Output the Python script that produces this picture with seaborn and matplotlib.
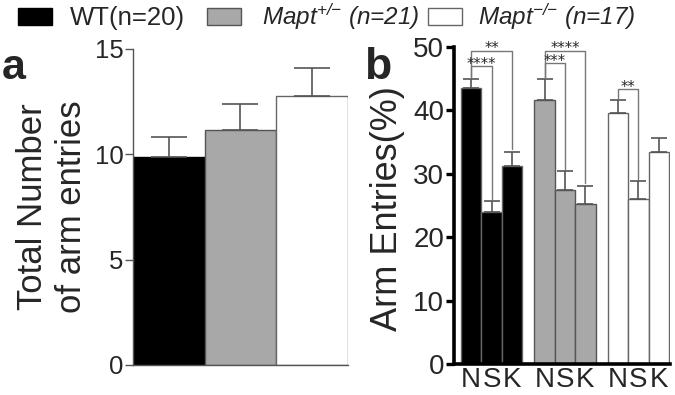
import numpy as np
import pandas as pd
import matplotlib
matplotlib.use('Agg')
import matplotlib.pyplot as plt
from matplotlib.patches import Rectangle
import seaborn as sns

sns.set_style('white')
plt.rcParams['font.family'] = ['Liberation Sans', 'DejaVu Sans']
plt.rcParams['mathtext.default'] = 'regular'

# ========== data ==========
genotypes = ['WT', 'Mapt+/-', 'Mapt-/-']
legend_labels = ['WT(n=20)', r'Mapt$^{{+}/{-}}$ (n=21)', r'Mapt$^{{-}/{-}}$ (n=17)']
colors = ['#000000', '#a8a8a8', '#ffffff']
edges_a = ['#000000', '#555555', '#666666']
edges_b = ['#666666', '#555555', '#666666']

total_entries = [9.85, 11.15, 12.77]
total_sem = [0.95, 1.24, 1.33]

arms = ['N', 'S', 'K']
wt_arm = [43.6, 23.9, 31.3]
wt_sem = [1.4, 1.8, 2.2]
het_arm = [41.6, 27.5, 25.2]
het_sem = [3.3, 2.9, 2.9]
ko_arm = [39.6, 26.1, 33.4]
ko_sem = [2.1, 2.7, 2.3]

# (group, arm i, arm j, bracket height, stars)
brackets = [(0, 0, 2, 49.4, '**'), (0, 0, 1, 47.0, '****'),
            (1, 0, 2, 49.4, '****'), (1, 0, 1, 47.4, '***'),
            (2, 0, 1, 43.3, '**')]

W, H = 675, 395
fig = plt.figure(figsize=(W / 100, H / 100), dpi=100)

# ========== panel a ==========
axa = fig.add_axes([133 / W, 1 - 365 / H, (348 - 133) / W, (365 - 49) / H])
dfa = pd.DataFrame({'geno': genotypes, 'val': total_entries})
sns.barplot(data=dfa, x='geno', y='val', hue='geno', palette=colors, width=1,
            errorbar=None, legend=False, ax=axa, saturation=1)
for p, e in zip(axa.patches, edges_a):
    p.set_edgecolor(e)
    p.set_linewidth(1)
axa.errorbar(range(3), total_entries, yerr=[np.zeros(3), total_sem], fmt='none',
             ecolor='#555555', elinewidth=1.2, capsize=13, capthick=1.2, zorder=1)
axa.set_xlim(-0.5, 2.5)
axa.set_ylim(0, 15)
axa.set_yticks([0, 5, 10, 15])
axa.set_xticks([])
axa.set_xlabel('')
axa.set_ylabel('Total Number\nof arm entries', fontsize=25, linespacing=1.2, labelpad=5)
axa.tick_params(axis='y', labelsize=18.5, length=6, width=1, color='#555555', pad=1, left=True)
for s in ['top', 'right']:
    axa.spines[s].set_visible(False)
for s in ['left', 'bottom']:
    axa.spines[s].set_color('#555555')
    axa.spines[s].set_linewidth(1)

# ========== panel b ==========
axb = fig.add_axes([454 / W, 1 - 364 / H, (670 - 454) / W, (364 - 47) / H])
rows = []
for g, (vals, sems) in enumerate([(wt_arm, wt_sem), (het_arm, het_sem), (ko_arm, ko_sem)]):
    for i, arm in enumerate(arms):
        rows.append({'pos': g * 3.6 + i, 'group': genotypes[g], 'arm': arm,
                     'val': vals[i], 'sem': sems[i]})
dfb = pd.DataFrame(rows)
sns.barplot(data=dfb, x='pos', y='val', hue='group', palette=colors, native_scale=True,
            dodge=False, width=1, errorbar=None, legend=False, ax=axb, saturation=1)
edge_of = {matplotlib.colors.to_hex(c): e for c, e in zip(colors, edges_b)}
for p in axb.patches:
    p.set_edgecolor(edge_of.get(matplotlib.colors.to_hex(p.get_facecolor()), '#555555'))
    p.set_linewidth(1)
axb.errorbar(dfb['pos'], dfb['val'], yerr=[np.zeros(len(dfb)), dfb['sem']], fmt='none',
             ecolor='#555555', elinewidth=1.2, capsize=5.5, capthick=1.2, zorder=1)

for g, i, j, h, stars in brackets:
    sub = dfb.iloc[g * 3:(g + 1) * 3]
    xi, xj = sub['pos'].iloc[i], sub['pos'].iloc[j]
    yi = sub['val'].iloc[i] + sub['sem'].iloc[i] + 0.2
    yj = sub['val'].iloc[j] + sub['sem'].iloc[j] + 0.4
    axb.plot([xi, xi, xj, xj], [yi, h, h, yj], color='#777777', lw=1, clip_on=False)
    axb.text((xi + xj) / 2, h - 0.4, stars, ha='center', va='baseline', fontsize=10.5,
             family='DejaVu Sans', clip_on=False)

axb.set_xlim(-0.84, 9.75)
axb.set_ylim(0, 50)
axb.set_yticks(range(0, 51, 10))
axb.set_xticks(dfb['pos'])
axb.set_xticklabels(dfb['arm'])
axb.set_xlabel('')
axb.set_ylabel('Arm Entries(%)', fontsize=26)
axb.yaxis.set_label_coords(-0.227, 0.49)
axb.tick_params(axis='y', labelsize=20, length=6, width=2.4, color='black', pad=1, left=True)
axb.tick_params(axis='x', labelsize=20, length=0, pad=2)
for s in ['top', 'right']:
    axb.spines[s].set_visible(False)
for s in ['left', 'bottom']:
    axb.spines[s].set_color('black')
    axb.spines[s].set_linewidth(2.6)

# ========== panel letters & legend ==========
fig.text(2 / W, 1 - 79 / H, 'a', fontsize=31, fontweight='bold', va='baseline')
fig.text(364 / W, 1 - 79 / H, 'b', fontsize=32, fontweight='bold', va='baseline')

legend_box_x = [18, 207, 428]
legend_text_x = [70, 262, 478]
legend_size = [18.5, 17.5, 17.5]
for k in range(3):
    fig.patches.append(Rectangle((legend_box_x[k] / W, 1 - 25 / H), 34 / W, 17 / H,
                                 transform=fig.transFigure, facecolor=colors[k],
                                 edgecolor=edges_a[k], linewidth=1))
    fig.text(legend_text_x[k] / W, 1 - 25 / H, legend_labels[k], fontsize=legend_size[k],
             va='baseline', style='normal' if k == 0 else 'italic')

fig.savefig('out.png', dpi=100)
